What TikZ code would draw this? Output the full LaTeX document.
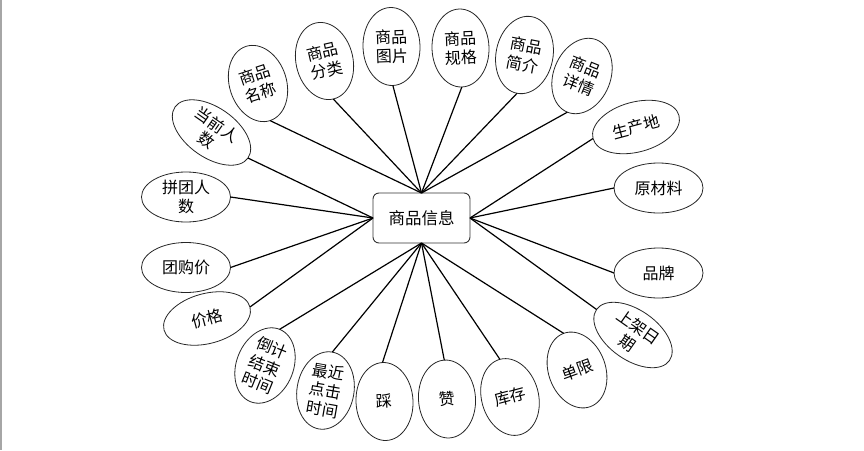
\documentclass[tikz,border=0pt]{standalone}
\usepackage{fontspec}
\newfontfamily\cjk{Noto Sans CJK SC}
\usetikzlibrary{shapes.geometric}
\begin{document}
\begin{tikzpicture}[x=1pt,y=-1pt,
  attr/.style={ellipse, draw=black!85, line width=0.8pt, inner sep=0pt, outer sep=0pt, align=center, font=\cjk\fontsize{16}{19}\selectfont},
  vattr/.style={attr, minimum width=57pt, minimum height=78pt},
  hattr/.style={attr, minimum width=89pt, minimum height=50pt},
  link/.style={line width=1.2pt, black},
  entity/.style={draw=black!80, rounded corners=6pt, line width=0.9pt, minimum width=97pt, minimum height=50pt, inner sep=0pt, outer sep=0pt, font=\cjk\fontsize{16.5}{20}\selectfont}]
\useasboundingbox (0,0) rectangle (864,450);
\fill[gray!70] (0,0) rectangle (1.5,450);
\node[entity] (e) at (421.5,218) {商品信息};
% top
\node[vattr, rotate=18] (mc) at (258,83.5) {商品\\名称};
\node[vattr, rotate=13] (fl) at (324.5,61) {商品\\分类};
\node[vattr, rotate=2] (tp) at (391.5,46.5) {商品\\图片};
\node[vattr, rotate=2] (gg) at (460.5,48) {商品\\规格};
\node[vattr, rotate=-11] (jj) at (524.5,55) {商品\\简介};
\node[vattr, rotate=-22] (xq) at (582,76) {商品\\详情};
% right
\node[hattr, rotate=15] (scd) at (636,127) {生产地};
\node[hattr] (ycl) at (658.5,188) {原材料};
\node[hattr] (pp) at (658.5,273) {品牌};
\node[hattr, rotate=-35] (sj) at (633,335) {上架日\\期};
% bottom
\node[vattr, rotate=20] (dx) at (577,370) {单限};
\node[vattr, rotate=15] (kc) at (510,397) {库存};
\node[vattr, rotate=4] (zan) at (447,399) {赞};
\node[vattr, rotate=3] (cai) at (384.5,401.5) {踩};
\node[vattr, rotate=-10] (zj) at (325.5,390.5) {最近\\点击\\时间};
\node[vattr, rotate=-22] (dj) at (265,365.5) {倒计\\结束\\时间};
% left
\node[hattr, rotate=15] (jg) at (207,318.5) {价格};
\node[hattr] (tgj) at (186,267.5) {团购价};
\node[hattr] (ptrs) at (186,197) {拼团人\\数};
\node[hattr, rotate=-35] (dqrs) at (211.5,132.5) {当前人\\数};
% links
\foreach \n in {mc,fl,tp,gg,jj,xq} \draw[link] (\n.south) -- (e.north);
\foreach \n in {scd,ycl,pp,sj} \draw[link] (\n.west) -- (e.east);
\foreach \n in {dx,kc,zan,cai,zj,dj} \draw[link] (\n.north) -- (e.south);
\foreach \n in {jg,tgj,ptrs,dqrs} \draw[link] (\n.east) -- (e.west);
\end{tikzpicture}
\end{document}
